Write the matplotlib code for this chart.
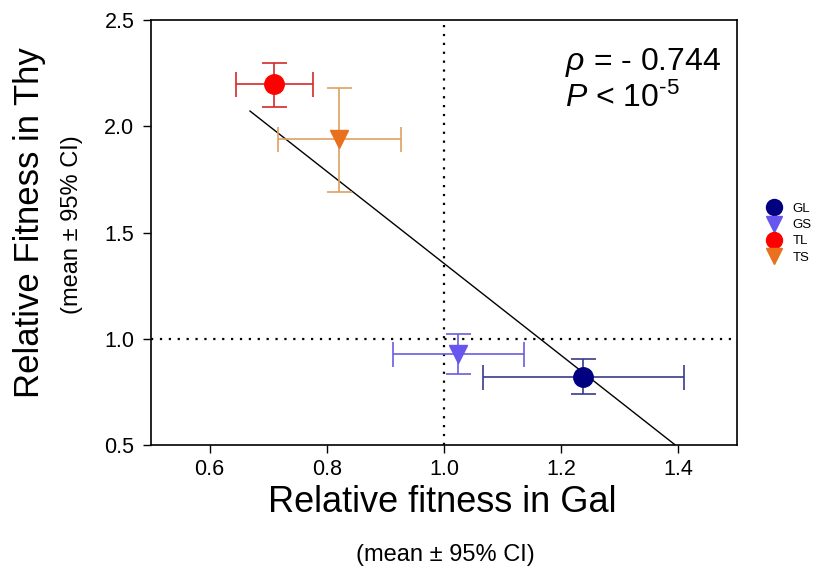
import matplotlib
matplotlib.use("Agg")
import matplotlib.pyplot as plt
from matplotlib.lines import Line2D

plt.rcParams['font.family'] = ['Liberation Sans', 'DejaVu Sans']
plt.rcParams['mathtext.fontset'] = 'custom'
plt.rcParams['mathtext.rm'] = 'Liberation Sans'
plt.rcParams['mathtext.it'] = 'Liberation Sans:italic'

# Strain groups: mean relative fitness with 95% CI bounds
groups = ["GL", "GS", "TL", "TS"]
gal_mean = [1.237, 1.024, 0.71, 0.821]
gal_low = [1.067, 0.913, 0.645, 0.717]
gal_high = [1.41, 1.137, 0.776, 0.927]
thy_mean = [0.82, 0.928, 2.20, 1.94]
thy_low = [0.74, 0.834, 2.09, 1.69]
thy_high = [0.905, 1.022, 2.30, 2.18]

markers = ["o", "v", "o", "v"]
face_colors = ["#000080", "#6655ee", "#ff0000", "#e8701e"]
err_colors = ["#3a3a8c", "#6a5ce0", "#d42a2a", "#e0a060"]

# Regression line
fit_intercept = 3.520
fit_slope = -2.165
fit_x = [0.669, 1.395]

rho_text = r"$\rho$ = - 0.744"
p_text = r"$P$ < 10$^{\text{-}5}$"

fig = plt.figure(figsize=(8.27, 5.76), dpi=100)
ax = fig.add_axes([0.1826, 0.2274, 0.7084, 0.7378])

ax.axvline(1.0, color="black", linestyle=(0, (1, 3)), linewidth=1.6, zorder=1)
ax.axhline(1.0, color="black", linestyle=(0, (1, 3)), linewidth=1.6, zorder=1)

fit_y = [fit_intercept + fit_slope * x for x in fit_x]
ax.plot(fit_x, fit_y, color="black", linewidth=1.0, zorder=2)

for i, g in enumerate(groups):
    xerr = [[gal_mean[i] - gal_low[i]], [gal_high[i] - gal_mean[i]]]
    yerr = [[thy_mean[i] - thy_low[i]], [thy_high[i] - thy_mean[i]]]
    ax.errorbar([gal_mean[i]], [thy_mean[i]], xerr=xerr, yerr=yerr,
                fmt="none", ecolor=err_colors[i], elinewidth=1.2,
                capsize=9, capthick=1.2, zorder=3)
    ms = 14 if markers[i] == "o" else 13
    ax.plot([gal_mean[i]], [thy_mean[i]], marker=markers[i], markersize=ms,
            color=face_colors[i], markeredgecolor=face_colors[i],
            linestyle="none", zorder=4)

ax.set_xlim(0.5, 1.5)
ax.set_ylim(0.5, 2.5)
ax.set_xticks([0.6, 0.8, 1.0, 1.2, 1.4])
ax.set_yticks([0.5, 1.0, 1.5, 2.0, 2.5])
ax.set_xticklabels(["0.6", "0.8", "1.0", "1.2", "1.4"])
ax.set_yticklabels(["0.5", "1.0", "1.5", "2.0", "2.5"])
ax.tick_params(axis="both", direction="out", length=6, width=1.0,
               labelsize=15.5)
ax.tick_params(axis="x", pad=4)
ax.tick_params(axis="y", pad=6)
for s in ax.spines.values():
    s.set_linewidth(1.2)

ax.text(0.706, 0.899, rho_text, transform=ax.transAxes, fontsize=23,
        ha="left", va="center")
ax.text(0.706, 0.815, p_text, transform=ax.transAxes, fontsize=23,
        ha="left", va="center")

fig.text(0.036, 0.614, "Relative Fitness in Thy", rotation=90,
         fontsize=25, ha="center", va="center")
fig.text(0.087, 0.61, "(mean \u00b1 95% CI)", rotation=90,
         fontsize=17, ha="center", va="center")
fig.text(0.535, 0.128, "Relative fitness in Gal", fontsize=26,
         ha="center", va="center")
fig.text(0.538, 0.036, "(mean \u00b1 95% CI)", fontsize=17,
         ha="center", va="center")

handles = [Line2D([], [], marker=markers[i], linestyle="none",
                  markersize=11.5 if markers[i] == "o" else 11,
                  color=face_colors[i], label=g)
           for i, g in enumerate(groups)]
fig.legend(handles=handles, loc="center left", bbox_to_anchor=(0.92, 0.595),
           frameon=False, fontsize=9.5, handletextpad=0.9, labelspacing=0.3,
           handlelength=1.0, borderpad=0)

fig.savefig("out.png", dpi=100)
